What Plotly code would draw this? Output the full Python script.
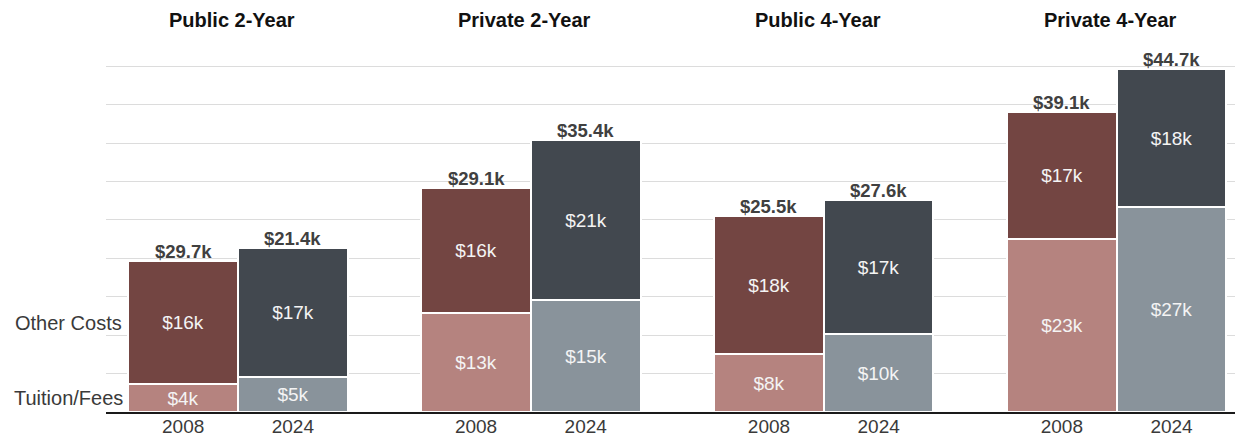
import math
import plotly.graph_objects as go

# Sector groups and years
groups = ["Public 2-Year", "Private 2-Year", "Public 4-Year", "Private 4-Year"]
years = ["2008", "2024"]

# Annual cost components, thousands of dollars
tuition_2008 = [3.7, 12.9, 7.6, 22.5]
other_2008 = [15.9, 16.2, 17.9, 16.6]
tuition_2024 = [4.5, 14.6, 10.2, 26.7]
other_2024 = [16.9, 20.8, 17.4, 18.0]

# Total labels printed above each stack
total_labels_2008 = ["$29.7k", "$29.1k", "$25.5k", "$39.1k"]
total_labels_2024 = ["$21.4k", "$35.4k", "$27.6k", "$44.7k"]

# Styling
FONT = "Liberation Sans, Arial, Helvetica, sans-serif"
C_TUI_08, C_OTH_08 = "#b5837f", "#734542"
C_TUI_24, C_OTH_24 = "#89939b", "#42484f"
BAR_W = 0.3745


def kfmt(v):
    return "$%dk" % math.floor(v + 0.5)


def bar_x(j):
    return [g + (j - 0.5) * BAR_W for g in range(len(groups))]


fig = go.Figure()

series = [
    (0, tuition_2008, C_TUI_08, "Tuition/Fees 2008"),
    (0, other_2008, C_OTH_08, "Other Costs 2008"),
    (1, tuition_2024, C_TUI_24, "Tuition/Fees 2024"),
    (1, other_2024, C_OTH_24, "Other Costs 2024"),
]
for j, vals, color, name in series:
    fig.add_trace(go.Bar(
        x=bar_x(j), y=vals, width=BAR_W, name=name,
        marker=dict(color=color, line=dict(color="white", width=2)),
        text=[kfmt(v) for v in vals],
        textposition="inside", insidetextanchor="middle",
        constraintext="none",
        textfont=dict(family=FONT, size=19, color="#f4f4f4"),
        hoverinfo="skip", showlegend=False,
    ))

annotations = []

# Totals above each stack
for j, (tui, oth, labels) in enumerate([
    (tuition_2008, other_2008, total_labels_2008),
    (tuition_2024, other_2024, total_labels_2024),
]):
    for xi, t, o, lab in zip(bar_x(j), tui, oth, labels):
        annotations.append(dict(
            x=xi, y=t + o, xref="x", yref="y", text="<b>%s</b>" % lab,
            showarrow=False, xanchor="center", yanchor="bottom", yshift=-3,
            font=dict(family=FONT, size=18.5, color="#404040"),
        ))

# Group headings
for g, name in enumerate(groups):
    annotations.append(dict(
        x=g, y=1, xref="x", yref="paper", text="<b>%s</b>" % name,
        showarrow=False, xanchor="center", yanchor="middle",
        xshift=-6, yshift=40,
        font=dict(family=FONT, size=20, color="#111111"),
    ))

# Component names beside the first stack
annotations.append(dict(
    x=0, y=tuition_2008[0] / 2, xref="paper", yref="y", text="Tuition/Fees",
    showarrow=False, xanchor="center", yanchor="middle", xshift=-38,
    font=dict(family=FONT, size=20, color="#3a3a3a"),
))
annotations.append(dict(
    x=0, y=tuition_2008[0] + other_2008[0] / 2, xref="paper", yref="y",
    text="Other Costs", showarrow=False, xanchor="center", yanchor="middle",
    xshift=-38, font=dict(family=FONT, size=20, color="#3a3a3a"),
))

tick_vals = bar_x(0) + bar_x(1)
tick_text = [years[0]] * len(groups) + [years[1]] * len(groups)

fig.update_layout(
    width=1235, height=438,
    margin=dict(l=106, r=0, t=60, b=26, autoexpand=False),
    barmode="stack", bargap=0,
    plot_bgcolor="white", paper_bgcolor="white",
    annotations=annotations,
    xaxis=dict(
        range=[-0.4507, 3.4039], tickvals=tick_vals, ticktext=tick_text,
        showgrid=False, zeroline=False, showline=True,
        linecolor="#1a1a1a", linewidth=2, ticks="",
        ticklabelstandoff=-4,
        tickfont=dict(family=FONT, size=19, color="#3a3a3a"),
        fixedrange=True,
    ),
    yaxis=dict(
        range=[0, 45.82], dtick=5, showgrid=True, gridcolor="#dcdcdc",
        gridwidth=1, zeroline=False, showticklabels=False, ticks="",
        fixedrange=True,
    ),
)

fig.write_html("out.html", config={"displayModeBar": False})
